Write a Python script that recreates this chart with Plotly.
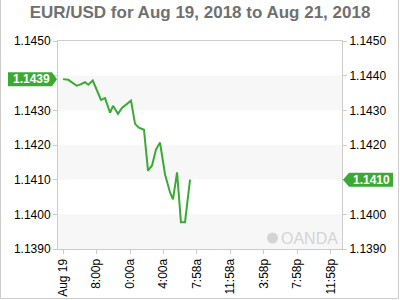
import plotly.graph_objects as go

times = ["2018-08-19 16:00", "2018-08-19 16:38", "2018-08-19 17:38", "2018-08-19 18:02",
         "2018-08-19 18:38", "2018-08-19 19:01", "2018-08-19 19:33", "2018-08-19 20:32",
         "2018-08-19 21:01", "2018-08-19 21:37", "2018-08-19 21:58", "2018-08-19 22:34",
         "2018-08-19 23:02", "2018-08-19 23:38", "2018-08-20 00:07", "2018-08-20 00:36",
         "2018-08-20 01:04", "2018-08-20 01:40", "2018-08-20 02:09", "2018-08-20 02:38",
         "2018-08-20 03:06", "2018-08-20 03:35", "2018-08-20 04:11", "2018-08-20 04:47",
         "2018-08-20 05:08", "2018-08-20 05:37", "2018-08-20 06:05", "2018-08-20 06:34",
         "2018-08-20 07:10"]
rates = [1.14390, 1.14388, 1.14371, 1.14374, 1.14381, 1.14374, 1.14386, 1.14330,
         1.14335, 1.14293, 1.14313, 1.14290, 1.14307, 1.14319, 1.14328, 1.14261,
         1.14250, 1.14244, 1.14126, 1.14141, 1.14187, 1.14207, 1.14115, 1.14063,
         1.14043, 1.14121, 1.13977, 1.13977, 1.14100]

tick_times = ["2018-08-19 16:00", "2018-08-19 20:00", "2018-08-20 00:00", "2018-08-20 04:00",
              "2018-08-20 07:58", "2018-08-20 11:58", "2018-08-20 15:58", "2018-08-20 19:58",
              "2018-08-20 23:58"]
tick_text = ["Aug 19", "8:00p", "0:00a", "4:00a", "7:58a", "11:58a", "3:58p", "7:58p", "11:58p"]

y_ticks = [1.1390, 1.1400, 1.1410, 1.1420, 1.1430, 1.1440, 1.1450]
left_labels = ["1.1390", "1.1400", "1.1410", "1.1420", "1.1430", "", "1.1450"]
right_labels = ["1.1390", "1.1400", "", "1.1420", "1.1430", "1.1440", "1.1450"]
y_range = [1.1390, 1.1450]
x_range = ["2018-08-19 15:24", "2018-08-21 01:19"]
band_pairs = [(1.1390, 1.1400), (1.1410, 1.1420), (1.1430, 1.1440)]

title = "EUR/USD for Aug 19, 2018 to Aug 21, 2018"
green = "#3aaa35"

fig = go.Figure()
fig.add_trace(go.Scatter(x=times, y=rates, mode="lines",
                         line=dict(color=green, width=2), showlegend=False, hoverinfo="skip"))
fig.add_trace(go.Scatter(x=times, y=rates, mode="lines", yaxis="y2",
                         line=dict(color="rgba(0,0,0,0)", width=0), showlegend=False, hoverinfo="skip"))

shapes = []
for lo, hi in band_pairs:
    shapes.append(dict(type="rect", xref="paper", yref="y", x0=0, x1=1, y0=lo, y1=hi,
                       fillcolor="#f7f7f7", line=dict(width=0), layer="below"))

W, H, L, T = 284, 208, 58, 41
def px(x):
    return (x - L) / W
def py(y):
    return (T + H - y) / H
def vy(v):
    return (v - y_range[0]) / (y_range[1] - y_range[0])

# outer border (left, bottom, right)
shapes.append(dict(type="path", xref="paper", yref="paper",
                   path=f"M {px(0.5)},{py(0)} L {px(0.5)},{py(298.5)} L {px(398.5)},{py(298.5)} L {px(398.5)},{py(0)}",
                   line=dict(color="#cccccc", width=1)))

first_v = rates[0]
last_v = rates[-1]
shapes.append(dict(type="path", xref="paper", yref="paper", xsizemode="pixel", ysizemode="pixel",
                   xanchor=0, yanchor=vy(first_v),
                   path="M -50,-7 L -6,-7 L -1,0 L -6,7 L -50,7 Z",
                   fillcolor=green, line=dict(width=0)))
shapes.append(dict(type="path", xref="paper", yref="paper", xsizemode="pixel", ysizemode="pixel",
                   xanchor=1, yanchor=vy(last_v),
                   path="M 1,0 L 7,-7 L 51,-7 L 51,7 L 7,7 Z",
                   fillcolor=green, line=dict(width=0)))
# OANDA logo circle
shapes.append(dict(type="circle", xref="paper", yref="paper",
                   x0=px(267), x1=px(278), y0=py(243.5), y1=py(232.5),
                   fillcolor="#d4d4d4", line=dict(width=0)))

annotations = [
    dict(xref="paper", yref="paper", x=px(31), y=vy(first_v), xanchor="center", yanchor="middle",
         text=f"<b>{first_v:.4f}</b>",
         showarrow=False, font=dict(color="white", size=12, family="Liberation Sans, Arial")),
    dict(xref="paper", yref="paper", x=px(371), y=vy(last_v), xanchor="center", yanchor="middle",
         text=f"<b>{last_v:.4f}</b>",
         showarrow=False, font=dict(color="white", size=12, family="Liberation Sans, Arial")),
    dict(xref="paper", yref="paper", x=px(279), y=py(238), xanchor="left", yanchor="middle",
         text="OANDA", showarrow=False, font=dict(color="#d4d4d4", size=16, family="Liberation Sans, Arial")),
]

axis_common = dict(showgrid=False, zeroline=False, linecolor="#cccccc", linewidth=1,
                   ticks="outside", ticklen=4, tickcolor="#cccccc", automargin=False,
                   tickfont=dict(color="black", size=12, family="Liberation Sans, Arial"))

fig.update_layout(
    width=400, height=300,
    margin=dict(l=L, r=400 - L - W, t=T, b=300 - T - H),
    paper_bgcolor="white", plot_bgcolor="white",
    title=dict(text=f"<b>{title}</b>", x=0.5, xanchor="center", y=1 - 12 / 300, yanchor="middle",
               font=dict(color="#707070", size=17, family="Liberation Sans, Arial")),
    xaxis=dict(type="date", range=x_range, tickvals=tick_times, ticktext=tick_text,
               tickangle=-90, mirror=True, showline=True, **axis_common),
    yaxis=dict(range=y_range, tickvals=y_ticks, ticktext=left_labels,
               showline=True, mirror=True, **axis_common),
    yaxis2=dict(range=y_range, tickvals=y_ticks, ticktext=right_labels,
                overlaying="y", side="right", showline=True, **axis_common),
    shapes=shapes, annotations=annotations, showlegend=False,
)

fig.write_html("out.html")
